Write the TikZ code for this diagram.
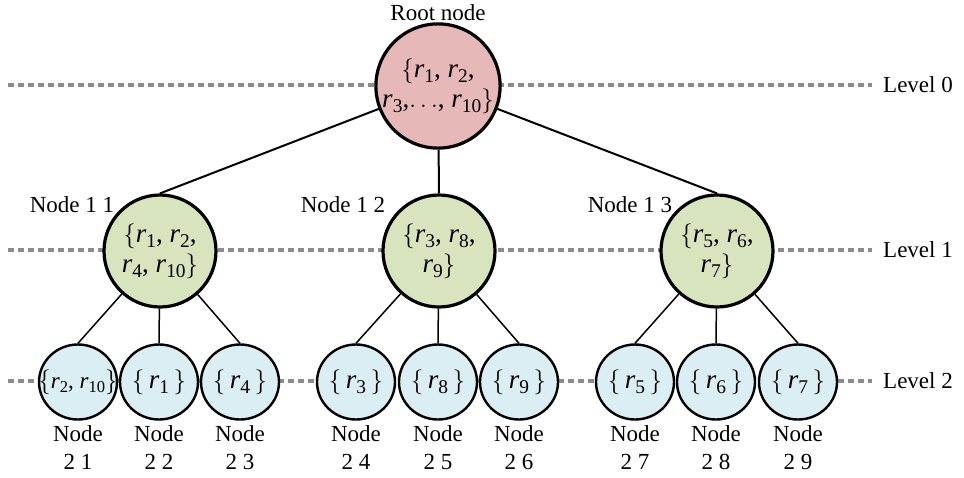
\documentclass[tikz,border=0pt]{standalone}
\usepackage{fontspec}
\usepackage{graphicx}
\setmainfont{Liberation Serif}
\usetikzlibrary{shapes.geometric}
\newcommand{\ri}[1]{\textit{r}\raisebox{-0.2em}{\scalebox{0.72}{#1}}}
\newcommand{\lb}{$\{$}
\newcommand{\rb}{$\}$}
\begin{document}
\begin{tikzpicture}[x=1pt,y=-1pt,
  lvl/.style={draw=black!45, line width=3.2pt, dash pattern=on 6pt off 4pt},
  rootc/.style={circle, draw=black, line width=3.2pt, fill=rootfill, minimum size=124pt, inner sep=0pt, align=center, font=\fontsize{27}{30}\selectfont},
  onec/.style={circle, draw=black, line width=3.2pt, fill=onefill, minimum size=112pt, inner sep=0pt, align=center, font=\fontsize{27}{30}\selectfont},
  twoc/.style={ellipse, draw=black, line width=2.4pt, fill=twofill, minimum width=78pt, minimum height=75pt, inner sep=0pt, align=center, font=\fontsize{27}{28}\selectfont},
  lbl/.style={font=\fontsize{23}{28}\selectfont, inner sep=0pt, align=center},
  edge/.style={draw=black, line width=2pt},
  edgetwo/.style={draw=black, line width=1.5pt}]
\definecolor{rootfill}{HTML}{E6B9B8}
\definecolor{onefill}{HTML}{D7E4BD}
\definecolor{twofill}{HTML}{DBEEF4}
\useasboundingbox (0,0) rectangle (964,477);
% level lines
\coordinate (l0a) at (8,85); \coordinate (l0b) at (872,85);
\coordinate (l1a) at (8,250); \coordinate (l1b) at (872,250);
\coordinate (l2a) at (8,381); \coordinate (l2b) at (872,381);
\draw[lvl] (l0a) -- (l0b);
\draw[lvl] (l1a) -- (l1b);
\draw[lvl] (l2a) -- (l2b);
\node[lbl, anchor=west] (L0) at (883,85) {Level 0};
\node[lbl, anchor=west] (L1) at (883,250) {Level 1};
\node[lbl, anchor=west] (L2) at (883,381) {Level 2};
% nodes
\node[rootc] (root) at (438,86) {\lb\ri{1}, \ri{2},\\ \ri{3},$\ldots$, \ri{10}\rb};
\node[lbl] (rootlbl) at (438,13) {Root node};
\node[onec] (n11) at (160,251) {\lb\ri{1}, \ri{2},\\ \ri{4}, \ri{10}\rb};
\node[onec] (n12) at (439,251) {\lb\ri{3}, \ri{8},\\ \ri{9}\rb};
\node[onec] (n13) at (717,251) {\lb\ri{5}, \ri{6},\\ \ri{7}\rb};
\node[lbl] (t11) at (72,205) {Node 1 1};
\node[lbl] (t12) at (343,205) {Node 1 2};
\node[lbl] (t13) at (630,205) {Node 1 3};
\draw[edge] (root) -- (n11.north);
\draw[edge] (root) -- (n12.north);
\draw[edge] (root) -- (n13.north);
\node[twoc, label={[font=\fontsize{23}{25}\selectfont, inner sep=0pt]center:\lb\ri{2}, \ri{10}\rb}] (n21) at (78,382) {};
\node[lbl] (t21) at (78,448) {Node\\2 1};
\foreach \nm/\x/\txt/\lab in {22/159/{\lb\,\ri{1}\,\rb}/2 2, 23/240/{\lb\,\ri{4}\,\rb}/2 3,
  24/356/{\lb\,\ri{3}\,\rb}/2 4, 25/438/{\lb\,\ri{8}\,\rb}/2 5, 26/519/{\lb\,\ri{9}\,\rb}/2 6,
  27/635/{\lb\,\ri{5}\,\rb}/2 7, 28/716/{\lb\,\ri{6}\,\rb}/2 8, 29/798/{\lb\,\ri{7}\,\rb}/2 9}{
  \node[twoc] (n\nm) at (\x,382) {\txt};
  \node[lbl] (t\nm) at (\x,448) {Node\\\lab};
}
\draw[edgetwo] (n11) -- (n21.north);
\draw[edgetwo] (n11) -- (n22.north);
\draw[edgetwo] (n11) -- (n23.north);
\draw[edgetwo] (n12) -- (n24.north);
\draw[edgetwo] (n12) -- (n25.north);
\draw[edgetwo] (n12) -- (n26.north);
\draw[edgetwo] (n13) -- (n27.north);
\draw[edgetwo] (n13) -- (n28.north);
\draw[edgetwo] (n13) -- (n29.north);
\end{tikzpicture}
\end{document}
